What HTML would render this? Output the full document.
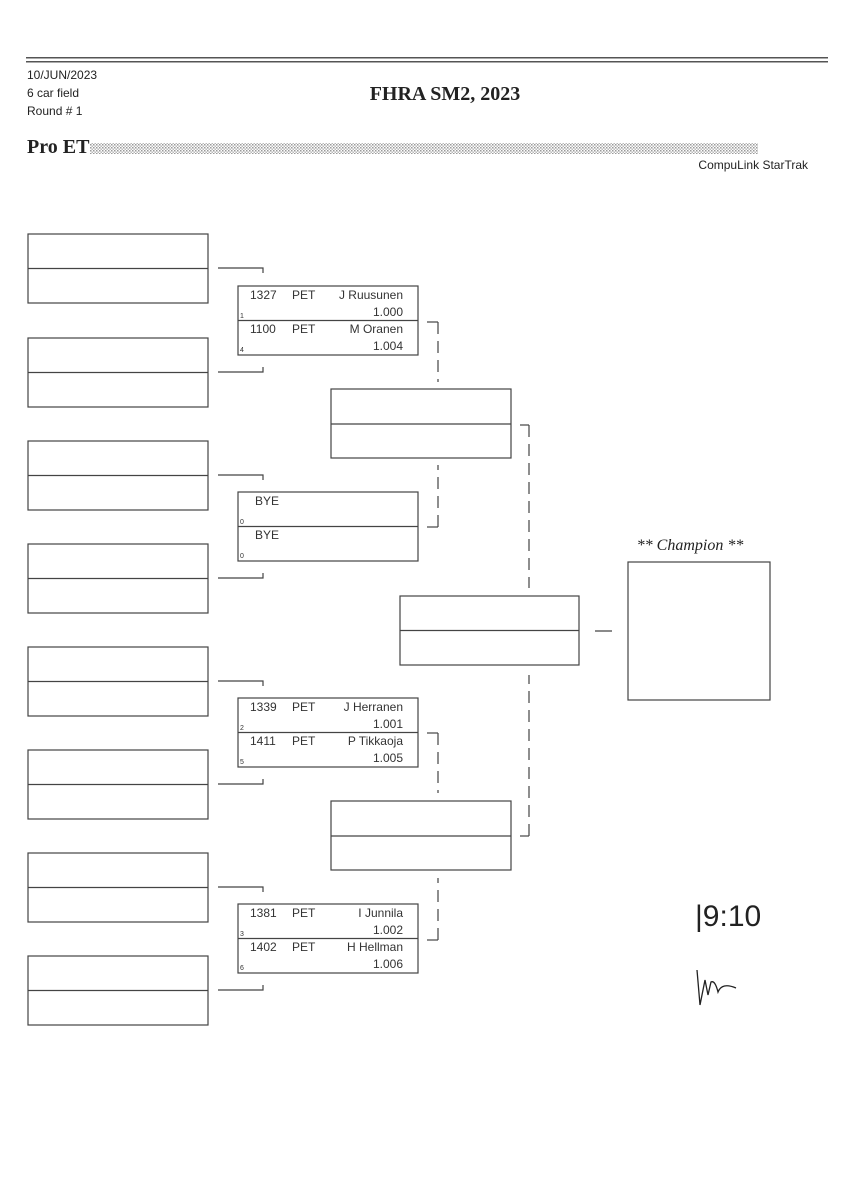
<!DOCTYPE html>
<html><head><meta charset="utf-8"><style>
html,body{margin:0;padding:0;background:#fff}
svg{display:block}
.m{font-family:"Liberation Sans Narrow","Liberation Sans",sans-serif;font-size:12px;fill:#333}
.s{font-family:"Liberation Sans",sans-serif;font-size:7px;fill:#333}
</style></head><body>
<svg width="848" height="1200" viewBox="0 0 848 1200" xmlns="http://www.w3.org/2000/svg">
<defs>
<pattern id="dots" width="3" height="3" patternUnits="userSpaceOnUse"><rect width="1.5" height="1.5" fill="#999"/><rect x="1.5" y="1.5" width="1.5" height="1.5" fill="#bbb"/></pattern>
</defs>
<rect x="26" y="57" width="802" height="1.5" fill="#555"/>
<rect x="26" y="61" width="802" height="1.5" fill="#555"/>
<g font-family="Liberation Sans Narrow, Liberation Sans, sans-serif" font-size="12" fill="#222">
<text x="27" y="79">10/JUN/2023</text>
<text x="27" y="97">6 car field</text>
<text x="27" y="115">Round # 1</text>
<text x="808" y="169" text-anchor="end">CompuLink StarTrak</text>
</g>
<text x="445" y="100" text-anchor="middle" font-family="Liberation Serif,serif" font-weight="bold" font-size="20" fill="#222">FHRA SM2, 2023</text>
<text x="27" y="153" font-family="Liberation Serif,serif" font-weight="bold" font-size="20" fill="#222">Pro ET</text>
<rect x="90" y="143" width="668" height="11" fill="url(#dots)"/>
<g fill="none" stroke="#444" stroke-width="1.2">
<rect x="28" y="234" width="180" height="69"/><line x1="28" y1="268.5" x2="208" y2="268.5"/>
<rect x="28" y="338" width="180" height="69"/><line x1="28" y1="372.5" x2="208" y2="372.5"/>
<rect x="28" y="441" width="180" height="69"/><line x1="28" y1="475.5" x2="208" y2="475.5"/>
<rect x="28" y="544" width="180" height="69"/><line x1="28" y1="578.5" x2="208" y2="578.5"/>
<rect x="28" y="647" width="180" height="69"/><line x1="28" y1="681.5" x2="208" y2="681.5"/>
<rect x="28" y="750" width="180" height="69"/><line x1="28" y1="784.5" x2="208" y2="784.5"/>
<rect x="28" y="853" width="180" height="69"/><line x1="28" y1="887.5" x2="208" y2="887.5"/>
<rect x="28" y="956" width="180" height="69"/><line x1="28" y1="990.5" x2="208" y2="990.5"/>
<polyline points="218,268 263,268 263,273"/>
<polyline points="218,372 263,372 263,367"/>
<polyline points="218,475 263,475 263,480"/>
<polyline points="218,578 263,578 263,573"/>
<polyline points="218,681 263,681 263,686"/>
<polyline points="218,784 263,784 263,779"/>
<polyline points="218,887 263,887 263,892"/>
<polyline points="218,990 263,990 263,985"/>
<rect x="238" y="286" width="180" height="69"/><line x1="238" y1="320.5" x2="418" y2="320.5"/>
<rect x="238" y="492" width="180" height="69"/><line x1="238" y1="526.5" x2="418" y2="526.5"/>
<rect x="238" y="698" width="180" height="69"/><line x1="238" y1="732.5" x2="418" y2="732.5"/>
<rect x="238" y="904" width="180" height="69"/><line x1="238" y1="938.5" x2="418" y2="938.5"/>
<rect x="331" y="389" width="180" height="69"/><line x1="331" y1="424" x2="511" y2="424"/>
<rect x="331" y="801" width="180" height="69"/><line x1="331" y1="836" x2="511" y2="836"/>
<rect x="400" y="596" width="179" height="69"/><line x1="400" y1="630.5" x2="579" y2="630.5"/>
<line x1="595" y1="631" x2="612" y2="631"/>
<rect x="628" y="562" width="142" height="138"/>
</g>
<g fill="none" stroke="#444" stroke-width="1.2">
<line x1="427" y1="322" x2="438" y2="322"/><line x1="427" y1="527" x2="438" y2="527"/>
<line x1="427" y1="733" x2="438" y2="733"/><line x1="427" y1="940" x2="438" y2="940"/>
<line x1="520" y1="425" x2="529" y2="425"/><line x1="520" y1="836" x2="529" y2="836"/>
</g>
<g fill="none" stroke="#444" stroke-width="1.2" stroke-dasharray="12 7">
<line x1="438" y1="322" x2="438" y2="382"/>
<line x1="438" y1="527" x2="438" y2="465" />
<line x1="438" y1="733" x2="438" y2="793"/>
<line x1="438" y1="940" x2="438" y2="878"/>
<line x1="529" y1="425" x2="529" y2="588"/>
<line x1="529" y1="836" x2="529" y2="675"/>
</g>
<g class="m">
<text x="250" y="299">1327</text><text x="292" y="299">PET</text><text x="403" y="299" text-anchor="end">J Ruusunen</text><text x="403" y="316" text-anchor="end">1.000</text>
<text x="250" y="333">1100</text><text x="292" y="333">PET</text><text x="403" y="333" text-anchor="end">M Oranen</text><text x="403" y="350" text-anchor="end">1.004</text>
<text x="255" y="505">BYE</text><text x="255" y="539">BYE</text>
<text x="250" y="711">1339</text><text x="292" y="711">PET</text><text x="403" y="711" text-anchor="end">J Herranen</text><text x="403" y="728" text-anchor="end">1.001</text>
<text x="250" y="745">1411</text><text x="292" y="745">PET</text><text x="403" y="745" text-anchor="end">P Tikkaoja</text><text x="403" y="762" text-anchor="end">1.005</text>
<text x="250" y="917">1381</text><text x="292" y="917">PET</text><text x="403" y="917" text-anchor="end">I Junnila</text><text x="403" y="934" text-anchor="end">1.002</text>
<text x="250" y="951">1402</text><text x="292" y="951">PET</text><text x="403" y="951" text-anchor="end">H Hellman</text><text x="403" y="968" text-anchor="end">1.006</text>
</g>
<g class="s">
<text x="240" y="318">1</text><text x="240" y="352">4</text>
<text x="240" y="524">0</text><text x="240" y="558">0</text>
<text x="240" y="730">2</text><text x="240" y="764">5</text>
<text x="240" y="936">3</text><text x="240" y="970">6</text>
</g>
<text x="690" y="550" text-anchor="middle" font-family="Liberation Serif,serif" font-style="italic" font-size="16" fill="#222">** Champion **</text>
<text x="695" y="926" font-family="Liberation Sans Narrow,Liberation Sans,sans-serif" font-size="30" fill="#222">|9:10</text>
<path d="M697 970 L700 1005 L705 980 L708 995 L711 982 Q715 980 718 992 Q722 982 736 988" fill="none" stroke="#222" stroke-width="1.3"/>
</svg>
</body></html>
